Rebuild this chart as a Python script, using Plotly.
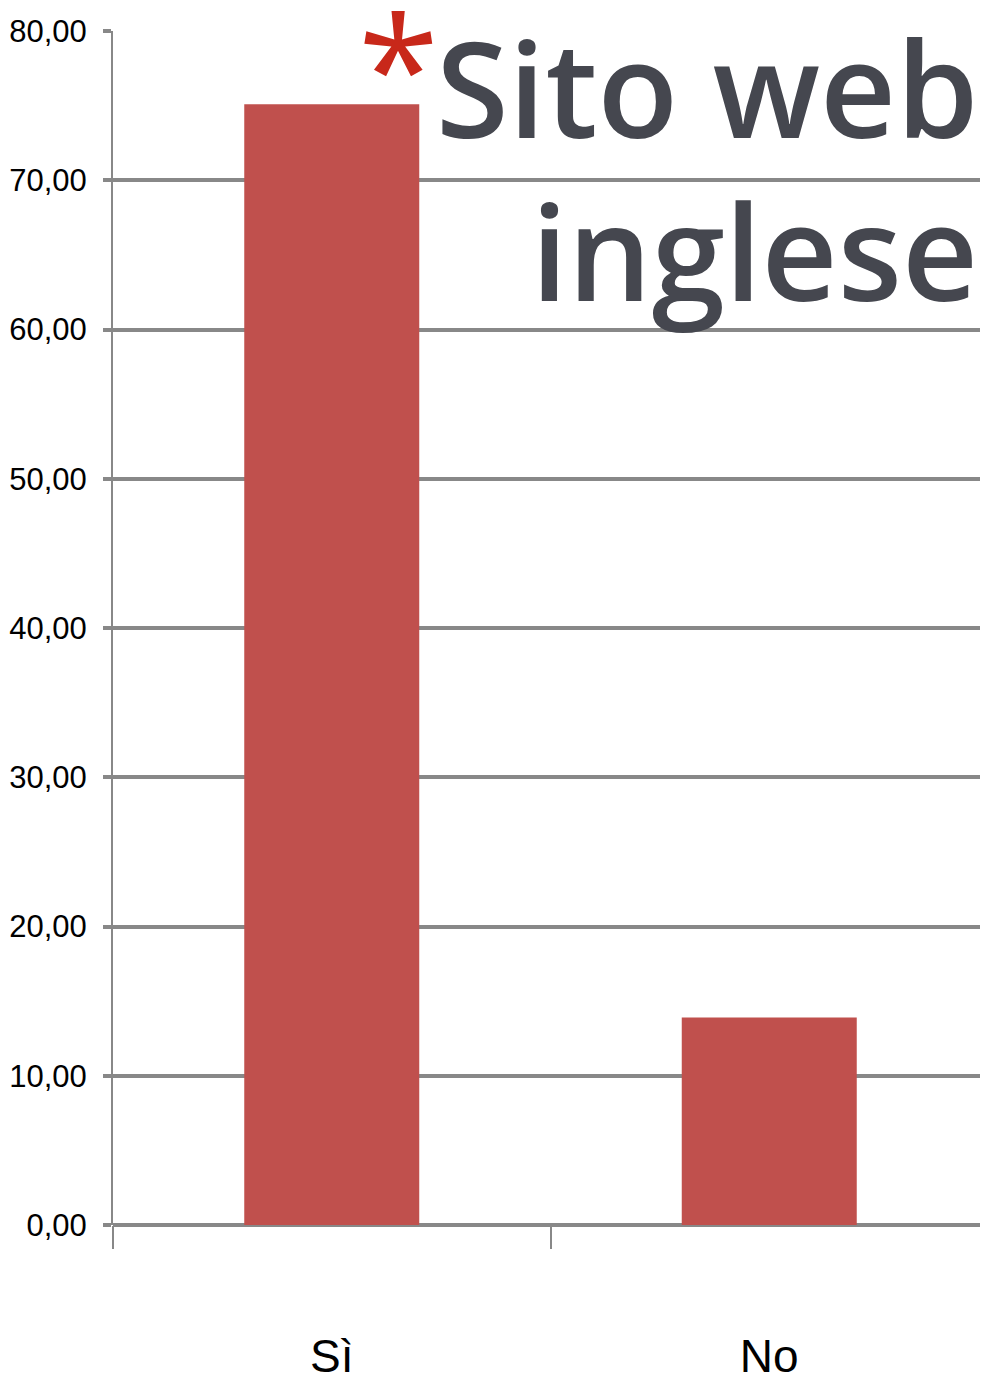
import plotly.graph_objects as go

categorie = ['Sì', 'No']
percentuali = [75.1, 13.9]
tick_valori = [0, 10, 20, 30, 40, 50, 60, 70, 80]

grigio = '#888888'
rosso_barre = '#C0504D'
grigio_titolo = '#45474F'

fig = go.Figure()
fig.add_trace(go.Bar(
    x=categorie,
    y=percentuali,
    marker=dict(color=rosso_barre, line=dict(width=0)),
    width=0.4,
))

# la pagina ha 8px di margine: la figura si riduce di conseguenza
fig.update_layout(
    width=980,
    height=1381,
    margin=dict(l=105, r=0, t=23, b=164),
    paper_bgcolor='white',
    plot_bgcolor='white',
    separators=',.',
    showlegend=False,
    font=dict(family='Liberation Sans, Arial, sans-serif', color='black'),
)

fig.update_yaxes(
    range=[0, 80],
    tickvals=tick_valori,
    tickformat='.2f',
    automargin=False,
    showgrid=True,
    gridcolor=grigio,
    gridwidth=4,
    zeroline=True,
    zerolinecolor=grigio,
    zerolinewidth=4,
    showline=True,
    linecolor=grigio,
    linewidth=2,
    ticks='outside',
    ticklen=8,
    tickwidth=4,
    tickcolor=grigio,
    ticklabelstandoff=10,
    tickfont=dict(size=31),
)

fig.update_xaxes(
    automargin=False,
    showgrid=False,
    showline=False,
    ticks='outside',
    tickson='boundaries',
    ticklen=23,
    tickwidth=2,
    tickcolor=grigio,
    ticklabelstandoff=100,
    tickfont=dict(size=46),
)

# titolo in alto a destra
fig.add_annotation(
    text='*', xref='paper', yref='y', x=(398 - 113) / 875, y=77.65,
    xanchor='center', yanchor='middle', showarrow=False,
    font=dict(family='Open Sans', size=147, color='#C8281A'),
)
fig.add_annotation(
    text='Sito web', xref='paper', yref='y', x=(980 - 113) / 875, y=76.25,
    xanchor='right', yanchor='middle', showarrow=False,
    font=dict(family='Open Sans', size=132, weight=600, color=grigio_titolo),
)
fig.add_annotation(
    text='inglese', xref='paper', yref='y', x=(980 - 113) / 875, y=65.35,
    xanchor='right', yanchor='middle', showarrow=False,
    font=dict(family='Open Sans', size=132, weight=600, color=grigio_titolo),
)

fig.write_html('out.html')
